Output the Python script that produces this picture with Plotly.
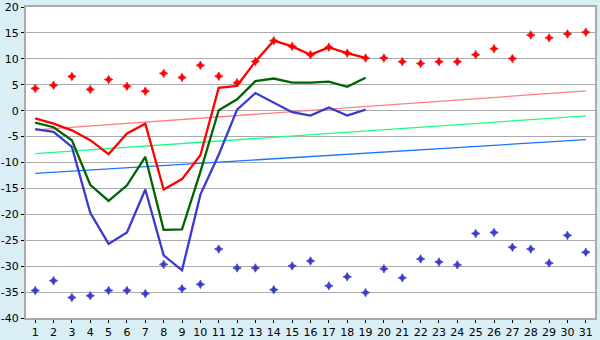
import plotly.graph_objects as go

days = list(range(1, 32))
days_cur = list(range(1, 20))
y_ticks = [20, 15, 10, 5, 0, -5, -10, -15, -20, -25, -30, -35, -40]
y_labels = [str(v) for v in y_ticks]

record_high = [4.3, 4.9, 6.6, 4.1, 6.0, 4.7, 3.75, 7.2, 6.4, 8.75, 6.65, 5.4, 9.5, 13.5, 12.4, 10.8,
               12.25, 11.1, 10.15, 10.15, 9.45, 9.1, 9.45, 9.45, 10.8, 11.95, 10.05, 14.6, 14.05, 14.8, 15.15]
record_low = [-34.7, -32.8, -36.05, -35.7, -34.7, -34.7, -35.3, -29.65, -34.35, -33.5, -26.7, -30.35,
              -30.35, -34.55, -29.95, -29.0, -33.8, -32.05, -35.1, -30.5, -32.25, -28.6, -29.2, -29.75,
              -23.7, -23.5, -26.35, -26.7, -29.4, -24.05, -27.3]

cur_max = [-1.5, -2.5, -3.8, -5.7, -8.4, -4.4, -2.5, -15.2, -13.2, -8.6, 4.4, 4.8, 9.5, 13.5,
           12.4, 10.8, 12.2, 11.1, 10.2]
cur_mean = [-2.3, -3.2, -5.7, -14.3, -17.4, -14.4, -8.9, -23.0, -22.9, -11.8, 0.1, 2.2, 5.7, 6.2,
            5.4, 5.4, 5.6, 4.6, 6.35]
cur_min = [-3.55, -4.1, -7.0, -19.7, -25.7, -23.5, -15.2, -27.9, -30.8, -16.2, -8.5, 0.2, 3.4, 1.6,
           -0.3, -0.95, 0.6, -0.95, 0.2]

trend_x = [1, 31]
norm_max = [-3.7, 3.8]
norm_mean = [-8.3, -1.0]
norm_min = [-12.1, -5.6]

fig = go.Figure()
fig.add_trace(go.Scatter(x=trend_x, y=norm_max, mode="lines", line=dict(color="#ff8080", width=1.3)))
fig.add_trace(go.Scatter(x=trend_x, y=norm_mean, mode="lines", line=dict(color="#19ff80", width=1.3)))
fig.add_trace(go.Scatter(x=trend_x, y=norm_min, mode="lines", line=dict(color="#1a75ff", width=1.3)))
fig.add_trace(go.Scatter(x=days_cur, y=cur_min, mode="lines", line=dict(color="#3a3acc", width=2.3)))
fig.add_trace(go.Scatter(x=days_cur, y=cur_mean, mode="lines", line=dict(color="#006400", width=2.3)))
fig.add_trace(go.Scatter(x=days_cur, y=cur_max, mode="lines", line=dict(color="#ff0000", width=2.3)))
fig.add_trace(go.Scatter(x=days, y=record_high, mode="markers",
                         marker=dict(symbol="star-diamond", size=6, color="#ff0000",
                                     line=dict(width=0.8, color="#ff0000"))))
fig.add_trace(go.Scatter(x=days, y=record_low, mode="markers",
                         marker=dict(symbol="star-diamond", size=6, color="#3a3acc",
                                     line=dict(width=0.8, color="#3a3acc"))))

fig.update_layout(
    width=600, height=340,
    margin=dict(l=26, r=5, t=7, b=22),
    paper_bgcolor="#daeef5",
    plot_bgcolor="#ffffff",
    showlegend=False,
    font=dict(family="DejaVu Sans", size=11, color="#000000"),
)
fig.update_xaxes(
    range=[0.5, 31.5], tickvals=days, ticktext=[str(d) for d in days], automargin=False,
    showgrid=False, zeroline=False, showline=True, linecolor="#aaaaaa", linewidth=2,
    ticks="outside", ticklen=3, tickcolor="#000000", tickwidth=1, mirror=True,
    ticklabeloverflow="allow",
)
fig.update_yaxes(
    range=[-40, 20], tickvals=y_ticks, ticktext=y_labels,
    showgrid=True, gridcolor="#aaaaaa", gridwidth=1, automargin=False,
    zeroline=False, showline=True, linecolor="#aaaaaa", linewidth=2, mirror=True,
    ticks="outside", ticklen=3, tickcolor="#000000", tickwidth=1,
    ticklabeloverflow="allow",
)

fig.write_html("out.html")
